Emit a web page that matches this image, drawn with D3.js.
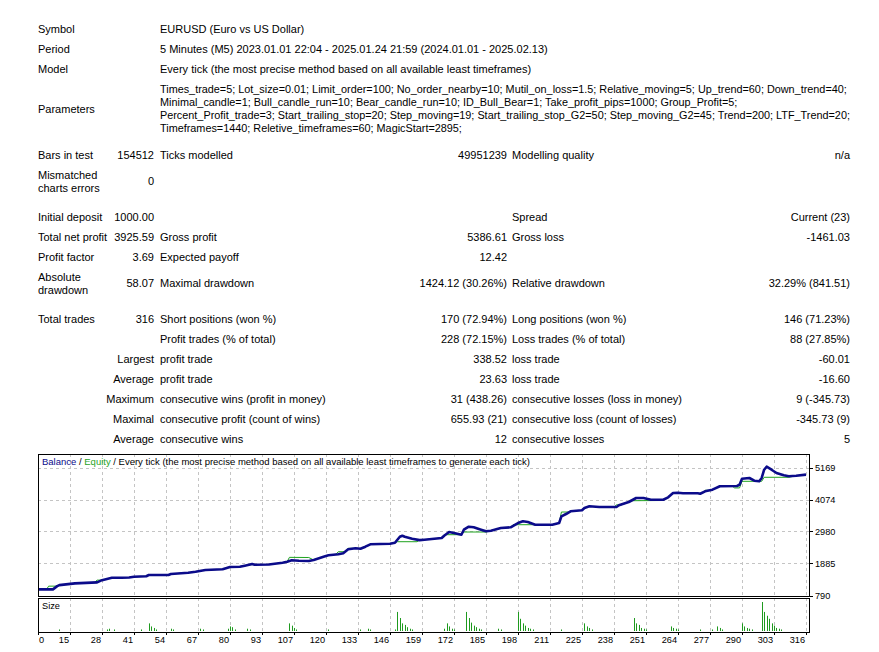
<!DOCTYPE html>
<html>
<meta charset="utf-8">
<style>
  body { margin: 0; background: #fff; }
  svg text { font-family: "Liberation Sans", Arial, sans-serif; font-size: 11px; fill: #000; }
  svg text.params { font-size: 10.85px; }
  svg text.axis { font-size: 9.2px; }
  svg text.title { font-size: 9.5px; }
  .grid line { stroke: #c4c4c4; stroke-dasharray: 3,3; shape-rendering: crispEdges; }
  .frame { fill: none; stroke: #000; stroke-width: 1; shape-rendering: crispEdges; }
  .tick { stroke: #000; shape-rendering: crispEdges; }
</style>
<svg width="879" height="652"></svg>
<script src="https://d3js.org/d3.v7.min.js"></script>
<script>

  // ---- report text ----
  var headerRows = [
    ["Symbol", "EURUSD (Euro vs US Dollar)"],
    ["Period", "5 Minutes (M5) 2023.01.01 22:04 - 2025.01.24 21:59 (2024.01.01 - 2025.02.13)"],
    ["Model", "Every tick (the most precise method based on all available least timeframes)"]
  ];

  var parameterLines = [
    "Times_trade=5; Lot_size=0.01; Limit_order=100; No_order_nearby=10; Mutil_on_loss=1.5; Relative_moving=5; Up_trend=60; Down_trend=40;",
    "Minimal_candle=1; Bull_candle_run=10; Bear_candle_run=10; ID_Bull_Bear=1; Take_profit_pips=1000; Group_Profit=5;",
    "Percent_Profit_trade=3; Start_trailing_stop=20; Step_moving=19; Start_trailing_stop_G2=50; Step_moving_G2=45; Trend=200; LTF_Trend=20;",
    "Timeframes=1440; Reletive_timeframes=60; MagicStart=2895;"
  ];

  // label1, value1, label2, value2, label3, value3
  var statRows = [
    ["Bars in test", "154512", "Ticks modelled", "49951239", "Modelling quality", "n/a"],
    ["Mismatched\ncharts errors", "0", "", "", "", ""],
    ["Initial deposit", "1000.00", "", "", "Spread", "Current (23)"],
    ["Total net profit", "3925.59", "Gross profit", "5386.61", "Gross loss", "-1461.03"],
    ["Profit factor", "3.69", "Expected payoff", "12.42", "", ""],
    ["Absolute\ndrawdown", "58.07", "Maximal drawdown", "1424.12 (30.26%)", "Relative drawdown", "32.29% (841.51)"],
    ["Total trades", "316", "Short positions (won %)", "170 (72.94%)", "Long positions (won %)", "146 (71.23%)"],
    ["", "", "Profit trades (% of total)", "228 (72.15%)", "Loss trades (% of total)", "88 (27.85%)"],
    ["", "Largest", "profit trade", "338.52", "loss trade", "-60.01"],
    ["", "Average", "profit trade", "23.63", "loss trade", "-16.60"],
    ["", "Maximum", "consecutive wins (profit in money)", "31 (438.26)", "consecutive losses (loss in money)", "9 (-345.73)"],
    ["", "Maximal", "consecutive profit (count of wins)", "655.93 (21)", "consecutive loss (count of losses)", "-345.73 (9)"],
    ["", "Average", "consecutive wins", "12", "consecutive losses", "5"]
  ];

  // ---- chart data ----
  var xTickLabels = [0, 15, 28, 41, 54, 67, 80, 93, 107, 120, 133, 146, 159, 172, 185, 198, 211, 225, 238, 251, 264, 277, 290, 303, 316];
  var yTickValues = [790, 1885, 2980, 4074, 5169];

  // balance curve: [trade number, money]
  var balancePoints = [
    [0, 1000], [7, 1000], [9, 1110], [10, 1145], [17, 1205], [26, 1240], [28, 1315], [32, 1395], [36, 1398], [39, 1405],
    [41, 1430], [46, 1450], [47, 1490], [55, 1492], [56, 1525], [63, 1570], [66, 1604], [70, 1662], [77, 1686], [80, 1765],
    [84, 1775], [86, 1810], [89, 1868], [90, 1844], [96, 1850], [102, 1912], [104, 1946], [106, 1994], [109, 1980], [113, 1970],
    [115, 2004], [119, 2117], [121, 2165], [125, 2199], [127, 2234], [129, 2370], [132, 2405], [134, 2390], [136, 2460], [138, 2541],
    [146, 2562], [148, 2596], [150, 2801], [151, 2836], [152, 2801], [155, 2733], [158, 2685], [160, 2699], [167, 2757], [168, 2836],
    [170, 2962], [172, 2928], [175, 2870], [176, 3041], [178, 3144], [180, 3123], [183, 3041], [185, 2986], [187, 3007], [191, 3099],
    [195, 3123], [198, 3270], [200, 3328], [202, 3304], [205, 3212], [212, 3212], [215, 3270], [216, 3499], [218, 3578], [220, 3670],
    [225, 3705], [226, 3783], [228, 3841], [232, 3817], [239, 3817], [240, 3876], [244, 3989], [247, 4125], [250, 4125], [253, 4067],
    [258, 4067], [260, 4149], [262, 4297], [264, 4307], [266, 4290], [272, 4286], [273, 4270], [275, 4355], [278, 4410], [281, 4526],
    [288, 4536], [289, 4581], [290, 4786], [293, 4810], [295, 4718], [297, 4697], [298, 4810], [299, 5093], [300, 5196], [302, 5093],
    [304, 4981], [307, 4902], [309, 4868], [312, 4888], [316, 4926]
  ];

  // equity curve: [trade number, money]
  var equityPoints = [
    [0, 1000], [4, 1000], [5, 1110], [9, 1110], [10, 1145], [17, 1205], [25, 1240], [26, 1315], [28, 1315], [32, 1395],
    [36, 1398], [39, 1405], [41, 1430], [46, 1450], [47, 1490], [55, 1492], [56, 1525], [63, 1570], [66, 1604], [70, 1662],
    [77, 1686], [80, 1765], [84, 1775], [86, 1810], [89, 1850], [96, 1850], [102, 1912], [104, 1946], [105, 2095], [113, 2090],
    [115, 2004], [119, 2117], [121, 2165], [124, 2199], [125, 2288], [128, 2288], [129, 2405], [134, 2400], [136, 2460], [138, 2541],
    [146, 2562], [148, 2596], [149, 2630], [157, 2630], [158, 2685], [160, 2699], [167, 2757], [168, 2870], [175, 2870], [176, 2962],
    [185, 2962], [187, 3007], [191, 3099], [195, 3123], [196, 3212], [205, 3212], [212, 3212], [215, 3270], [216, 3646], [219, 3646],
    [220, 3670], [225, 3705], [226, 3783], [228, 3841], [232, 3817], [238, 3817], [239, 3890], [241, 3890], [244, 3989], [245, 4033],
    [258, 4040], [260, 4149], [262, 4297], [264, 4307], [272, 4286], [274, 4280], [275, 4390], [277, 4390], [278, 4410], [281, 4526],
    [286, 4536], [287, 4470], [289, 4470], [290, 4697], [298, 4697], [299, 4834], [309, 4834], [312, 4888], [316, 4926]
  ];

  // lot size per trade
  var sizeTrades = [10, 30, 31, 33, 44, 47, 48, 49, 50, 56, 57, 68, 69, 79, 80, 81, 82, 87, 88, 105, 106, 107, 108, 121, 134, 137, 138,
    148, 149, 150, 151, 152, 153, 154, 155, 168, 169, 170, 171, 172, 177, 178, 179, 180, 181, 182, 183, 190, 191,
    198, 199, 200, 201, 202, 203, 204, 216, 226, 227, 228, 229, 246, 247, 248, 249, 250, 251, 261, 262, 263, 264, 273,
    278, 280, 281, 282, 290, 291, 292, 293, 294, 298, 299, 300, 301, 302, 303, 304, 305, 306];
  var sizeLots = [0.02, 0.02, 0.03, 0.02, 0.02, 0.1, 0.06, 0.04, 0.02, 0.03, 0.02, 0.03, 0.02, 0.03, 0.06, 0.05, 0.02, 0.03, 0.02, 0.1, 0.07, 0.04, 0.02, 0.02, 0.02, 0.03, 0.02,
    0.02, 0.25, 0.17, 0.1, 0.08, 0.05, 0.03, 0.02, 0.03, 0.1, 0.06, 0.03, 0.02, 0.25, 0.17, 0.11, 0.07, 0.05, 0.03, 0.02, 0.03, 0.02,
    0.25, 0.16, 0.1, 0.07, 0.04, 0.03, 0.02, 0.02, 0.1, 0.06, 0.04, 0.02, 0.17, 0.1, 0.08, 0.04, 0.03, 0.02, 0.06, 0.04, 0.03, 0.02, 0.02,
    0.02, 0.06, 0.04, 0.02, 0.1, 0.06, 0.04, 0.03, 0.02, 0.38, 0.25, 0.2, 0.16, 0.1, 0.07, 0.04, 0.03, 0.02];

  var svg = d3.select("svg");
  svg.append("rect").attr("width", 879).attr("height", 652).attr("fill", "#fff");

  // ---- report table ----
  var col = { label1: 38, value1: 154, label2: 160, value2: 507, label3: 512, value3: 850 };

  // write text centred on y, "\n" breaks into lines 13px apart
  function put(text, x, y, anchor, cls) {
    if (!text) return;
    var lines = text.split("\n");
    var t = svg.append("text")
      .attr("class", cls || null)
      .attr("text-anchor", anchor || "start");
    lines.forEach(function (line, i) {
      t.append("tspan")
        .attr("x", x)
        .attr("y", y - (lines.length - 1) * 6.5 + i * 13)
        .attr("dy", "0.35em")
        .text(line);
    });
  }

  var headerY = [29, 49, 69];
  headerRows.forEach(function (r, i) {
    put(r[0], col.label1, headerY[i]);
    put(r[1], col.label2, headerY[i]);
  });

  put("Parameters", col.label1, 109);
  parameterLines.forEach(function (line, i) {
    put(line, col.label2, 89 + i * 13, "start", "params");
  });

  var statY = [155, 181.5, 217, 237, 257, 283.5, 319, 339, 359, 379, 399, 419, 439];
  statRows.forEach(function (r, i) {
    var y = statY[i];
    put(r[0], col.label1, y);
    put(r[1], col.value1, y, "end");
    put(r[2], col.label2, y);
    put(r[3], col.value2, y, "end");
    put(r[4], col.label3, y);
    put(r[5], col.value3, y, "end");
  });

  // ---- chart ----
  var left = 38, right = 809;
  var mainTop = 454, mainBottom = 596, sizeTop = 598, sizeBottom = 632;

  // MT4 puts its trade labels on an even pixel grid
  var x = d3.scaleLinear()
    .domain(xTickLabels)
    .range(xTickLabels.map(function (d, i) { return left + 32 * i; }));

  var y = d3.scaleLinear()
    .domain([yTickValues[0], yTickValues[yTickValues.length - 1]])
    .range([595.5, 467.5]);

  var ySize = d3.scaleLinear()
    .domain([0, 0.38])
    .range([631, 602]);

  // grid
  var grid = svg.append("g").attr("class", "grid");
  grid.selectAll(".gv")
    .data(xTickLabels.slice(1))
    .enter().append("line")
    .attr("x1", function (d) { return Math.round(x(d)) + 0.5; })
    .attr("x2", function (d) { return Math.round(x(d)) + 0.5; })
    .attr("y1", mainTop)
    .attr("y2", mainBottom);
  grid.selectAll(".gs")
    .data(xTickLabels.slice(1))
    .enter().append("line")
    .attr("x1", function (d) { return Math.round(x(d)) + 0.5; })
    .attr("x2", function (d) { return Math.round(x(d)) + 0.5; })
    .attr("y1", sizeTop)
    .attr("y2", sizeBottom);
  grid.selectAll(".gh")
    .data(yTickValues.slice(1))
    .enter().append("line")
    .attr("x1", left)
    .attr("x2", right)
    .attr("y1", function (d) { return Math.round(y(d)) + 0.5; })
    .attr("y2", function (d) { return Math.round(y(d)) + 0.5; });

  // size bars
  svg.append("g").selectAll("rect")
    .data(sizeTrades)
    .enter().append("rect")
    .attr("x", function (d) { return Math.round(x(d)); })
    .attr("y", function (d, i) { return ySize(sizeLots[i]); })
    .attr("width", 1)
    .attr("height", function (d, i) { return ySize(0) - ySize(sizeLots[i]); })
    .attr("fill", "#1f9a1f");

  // curves
  var line = d3.line()
    .x(function (d) { return x(d[0]); })
    .y(function (d) { return y(d[1]); });

  svg.append("path")
    .datum(equityPoints)
    .attr("d", line)
    .attr("fill", "none")
    .attr("stroke", "#1fa31f")
    .attr("stroke-width", 1);

  svg.append("path")
    .datum(balancePoints)
    .attr("d", line)
    .attr("fill", "none")
    .attr("stroke", "#0b0b8a")
    .attr("stroke-width", 2.6)
    .attr("stroke-linejoin", "round");

  // frames
  svg.append("rect").attr("class", "frame")
    .attr("x", left + 0.5).attr("y", mainTop + 0.5)
    .attr("width", right - left).attr("height", mainBottom - mainTop);
  svg.append("rect").attr("class", "frame")
    .attr("x", left + 0.5).attr("y", sizeTop + 0.5)
    .attr("width", right - left).attr("height", sizeBottom - sizeTop);

  // right axis
  svg.selectAll(".ytick")
    .data(yTickValues)
    .enter().append("line")
    .attr("class", "tick")
    .attr("x1", right).attr("x2", right + 4)
    .attr("y1", function (d) { return Math.round(y(d)) + 0.5; })
    .attr("y2", function (d) { return Math.round(y(d)) + 0.5; });
  yTickValues.forEach(function (d) {
    put(String(d), right + 6, y(d), "start", "axis");
  });

  // bottom axis
  svg.selectAll(".xtick")
    .data(xTickLabels)
    .enter().append("line")
    .attr("class", "tick")
    .attr("x1", function (d) { return Math.round(x(d)) + 0.5; })
    .attr("x2", function (d) { return Math.round(x(d)) + 0.5; })
    .attr("y1", sizeBottom).attr("y2", sizeBottom + 3);
  xTickLabels.forEach(function (d, i) {
    if (i === 0) put(String(d), x(d) + 1, 640, "start", "axis");
    else put(String(d), x(d) - 1, 640, "end", "axis");
  });

  // legend line in the chart
  var title = svg.append("text").attr("class", "title").attr("x", 42).attr("y", 462).attr("dy", "0.35em");
  title.append("tspan").attr("fill", "#0b0b8a").text("Balance");
  title.append("tspan").text(" / ");
  title.append("tspan").attr("fill", "#1fa31f").text("Equity");
  title.append("tspan").text(" / Every tick (the most precise method based on all available least timeframes to generate each tick)");

  put("Size", 42, 606, "start", "axis");

</script>
</html>
